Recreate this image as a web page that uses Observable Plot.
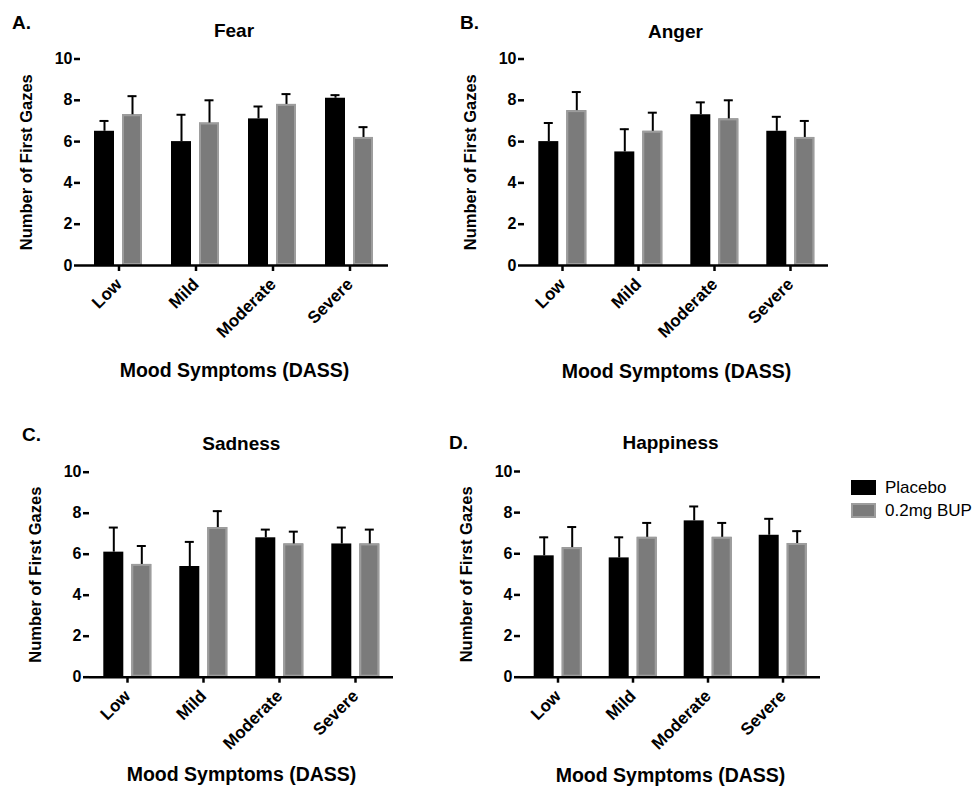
<!DOCTYPE html>
<html>
<head>
<meta charset="utf-8">
<script src="https://cdn.jsdelivr.net/npm/d3@7"></script>
<script src="https://cdn.jsdelivr.net/npm/@observablehq/plot@0.6"></script>
<style>
  body { margin: 0; background: #fff; }
  #root { position: relative; width: 973px; height: 787px; background: #fff; overflow: hidden;
          font-family: "Liberation Sans", Arial, sans-serif; color: #000; }
  .panel { position: absolute; }
  .lbl { position: absolute; font-weight: bold; line-height: 1; white-space: nowrap; }
  .title { transform: translateX(-50%); font-size: 19px; }
  .letter { font-size: 19px; }
  .legend { position: absolute; left: 851px; top: 476px; font-size: 17px; line-height: 1; }
  .legend .row { display: flex; align-items: center; height: 23px; }
  .legend .sw { width: 25px; height: 15px; margin-right: 9px; box-sizing: border-box; }
  svg text { font-family: "Liberation Sans", Arial, sans-serif; font-weight: bold; }
  g[aria-label="y-axis tick label"] { font-size: 16px; }
  g[aria-label="fx-axis tick label"] { font-size: 17px; }
  g[aria-label="y-axis label"] { font-size: 16.5px; }
  g[aria-label="fx-axis label"] { font-size: 19.5px; }
</style>
</head>
<body>
<div id="root"></div>
<script>
// ---- data ----
const categories = ["Low", "Mild", "Moderate", "Severe"];
const groups = ["Placebo", "0.2mg BUP"];
const yTicks = [0, 2, 4, 6, 8, 10];
const panelTitles = ["Fear", "Anger", "Sadness", "Happiness"];
const panelLetters = ["A.", "B.", "C.", "D."];
const xLabel = "Mood Symptoms (DASS)";
const yLabel = "Number of First Gazes";

// means and SEM (upper error) per group, in category order
const fearPlacebo = [6.5, 6.0, 7.1, 8.1];
const fearPlaceboSem = [0.5, 1.3, 0.6, 0.15];
const fearBup = [7.3, 6.9, 7.8, 6.2];
const fearBupSem = [0.9, 1.1, 0.5, 0.5];

const angerPlacebo = [6.0, 5.5, 7.3, 6.5];
const angerPlaceboSem = [0.9, 1.1, 0.6, 0.7];
const angerBup = [7.5, 6.5, 7.1, 6.2];
const angerBupSem = [0.9, 0.9, 0.9, 0.8];

const sadnessPlacebo = [6.1, 5.4, 6.8, 6.5];
const sadnessPlaceboSem = [1.2, 1.2, 0.4, 0.8];
const sadnessBup = [5.5, 7.3, 6.5, 6.5];
const sadnessBupSem = [0.9, 0.8, 0.6, 0.7];

const happinessPlacebo = [5.9, 5.8, 7.6, 6.9];
const happinessPlaceboSem = [0.9, 1.0, 0.7, 0.8];
const happinessBup = [6.3, 6.8, 6.8, 6.5];
const happinessBupSem = [1.0, 0.7, 0.7, 0.6];

const seriesMeans = [
  [fearPlacebo, fearBup], [angerPlacebo, angerBup],
  [sadnessPlacebo, sadnessBup], [happinessPlacebo, happinessBup]
];
const seriesSems = [
  [fearPlaceboSem, fearBupSem], [angerPlaceboSem, angerBupSem],
  [sadnessPlaceboSem, sadnessBupSem], [happinessPlaceboSem, happinessBupSem]
];

// ---- layout (positions / sizes) ----
const layout = [
  {left: 0,   top: 0,   width: 420, height: 390, ml: 80,   mt: 58.5, mb: 125,   mr: 32,   lOff: 60, xOff: 111,
   titleTop: 21, letterLeft: 12, letterTop: 13},
  {left: 440, top: 0,   width: 420, height: 390, ml: 81.7, mt: 58.5, mb: 125,   mr: 30.7, lOff: 60, xOff: 112,
   titleTop: 22, letterLeft: 20, letterTop: 13},
  {left: 0,   top: 410, width: 425, height: 377, ml: 87.7, mt: 61.7, mb: 110.3, mr: 30,   lOff: 60, xOff: 104,
   titleTop: 24, letterLeft: 22, letterTop: 15},
  {left: 440, top: 410, width: 420, height: 377, ml: 79.3, mt: 61,   mb: 110.3, mr: 38.3, lOff: 60, xOff: 105,
   titleTop: 23, letterLeft: 9, letterTop: 23}
];

const colorRange = ["#000000", "#7b7b7b"];
const bupBorder = "#9d9d9d";

const root = document.getElementById("root");

function makeData(pi) {
  const rows = [];
  groups.forEach((g, gi) => {
    categories.forEach((c, ci) => {
      const m = seriesMeans[pi][gi][ci];
      rows.push({category: c, group: g, mean: m, upper: m + seriesSems[pi][gi][ci]});
    });
  });
  return rows;
}

panelTitles.forEach((title, pi) => {
  const L = layout[pi];
  const data = makeData(pi);
  const chart = Plot.plot({
    width: L.width,
    height: L.height,
    marginLeft: L.ml,
    marginTop: L.mt,
    marginBottom: L.mb,
    marginRight: L.mr,
    style: {background: "transparent", fontFamily: "Liberation Sans, Arial, sans-serif", overflow: "visible"},
    fx: {domain: categories, padding: 0},
    x: {domain: groups, paddingInner: 0.276, paddingOuter: 0.474, axis: null},
    y: {domain: [0, 10]},
    color: {domain: groups, range: colorRange},
    marks: [
      Plot.barY(data, {fx: "category", x: "group", y: "mean", fill: "group"}),
      Plot.barY(data.filter(d => d.group === groups[1]),
        {fx: "category", x: "group", y: "mean", fill: "none", stroke: bupBorder, strokeWidth: 2, inset: 1}),
      Plot.ruleX(data, {fx: "category", x: "group", y1: "mean", y2: "upper", stroke: "#000", strokeWidth: 2}),
      Plot.tickY(data, {fx: "category", x: "group", y: "upper", stroke: "#000", strokeWidth: 2, insetLeft: 5.5, insetRight: 5.5}),
      Plot.ruleY([0], {stroke: "#000", strokeWidth: 2.5}),
      Plot.axisY({ticks: yTicks, tickSize: 6, tickPadding: 2, strokeWidth: 2.5, line: true,
        label: yLabel, labelAnchor: "center", labelArrow: "none", labelOffset: L.lOff, fill: "#000", stroke: "#000"}),
      Plot.axisFx({anchor: "bottom", tickRotate: -45, tickSize: 6, tickPadding: 10, strokeWidth: 2.5,
        label: xLabel, labelAnchor: "center", labelArrow: "none", labelOffset: L.xOff, fill: "#000", stroke: "#000"})
    ]
  });
  const holder = document.createElement("div");
  holder.className = "panel";
  holder.style.left = L.left + "px";
  holder.style.top = L.top + "px";
  holder.style.width = L.width + "px";
  holder.style.height = L.height + "px";
  holder.appendChild(chart);
  root.appendChild(holder);

  const t = document.createElement("div");
  t.className = "lbl title";
  t.textContent = title;
  const plotCenter = L.left + L.ml + (L.width - L.ml - L.mr) / 2;
  t.style.left = plotCenter + "px";
  t.style.top = (L.top + L.titleTop) + "px";
  root.appendChild(t);

  const lt = document.createElement("div");
  lt.className = "lbl letter";
  lt.textContent = panelLetters[pi];
  lt.style.left = (L.left + L.letterLeft) + "px";
  lt.style.top = (L.top + L.letterTop) + "px";
  root.appendChild(lt);
});

// legend
const legend = document.createElement("div");
legend.className = "legend";
groups.forEach((g, gi) => {
  const row = document.createElement("div");
  row.className = "row";
  const sw = document.createElement("div");
  sw.className = "sw";
  sw.style.background = colorRange[gi];
  if (gi === 1) sw.style.border = "2px solid " + bupBorder;
  const tx = document.createElement("span");
  tx.textContent = g;
  row.appendChild(sw);
  row.appendChild(tx);
  legend.appendChild(row);
});
root.appendChild(legend);
</script>
</body>
</html>
